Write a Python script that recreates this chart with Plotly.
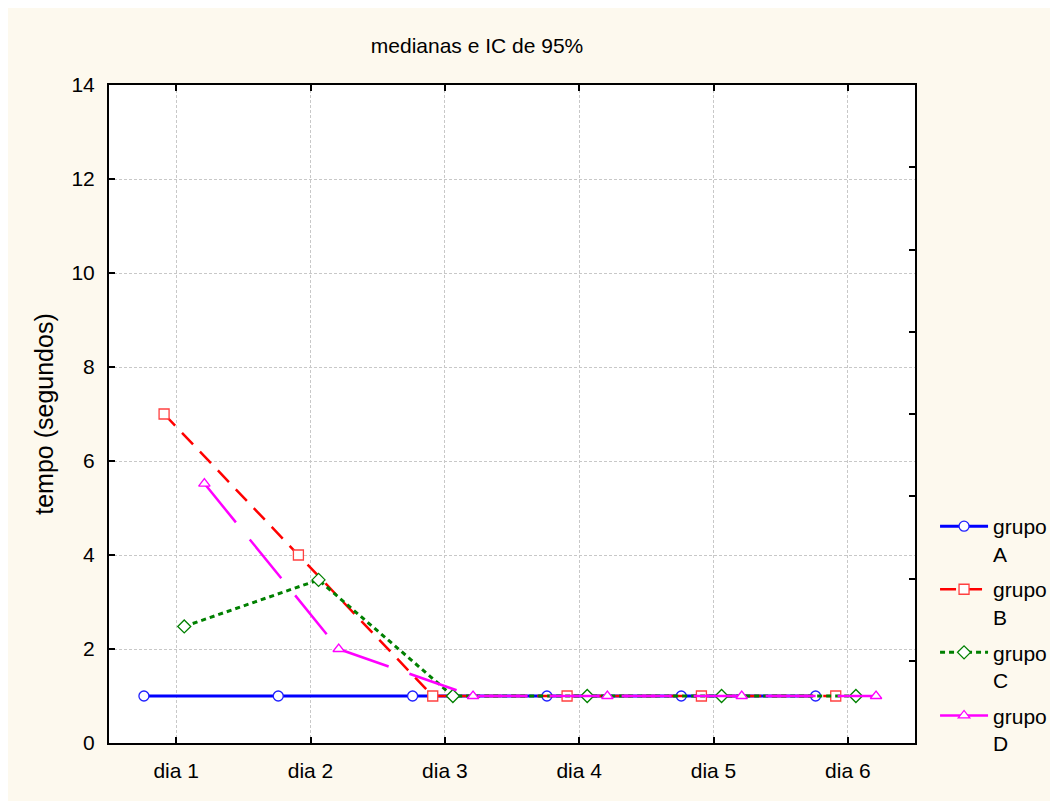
import plotly.graph_objects as go

dias = ["dia 1", "dia 2", "dia 3", "dia 4", "dia 5", "dia 6"]
grupo_A = [1, 1, 1, 1, 1, 1]
grupo_B = [7, 4, 1, 1, 1, 1]
grupo_C = [2.48, 3.47, 1, 1, 1, 1]
grupo_D = [5.52, 2.0, 1, 1, 1, 1]
y_ticks = [0, 2, 4, 6, 8, 10, 12, 14]

FONT = "Liberation Sans, Arial, sans-serif"
series = [
    ("grupo<br>A", grupo_A, -0.24, "#0000FF", "solid", 3, "circle", "#2020FF"),
    ("grupo<br>B", grupo_B, -0.09, "#FF0000", "16px,10px", 2.5, "square", "#FF4040"),
    ("grupo<br>C", grupo_C, 0.06, "#008000", "5px,4px", 3, "diamond", "#008000"),
    ("grupo<br>D", grupo_D, 0.21, "#FF00FF", "50px,22px", 2.5, "triangle-up", "#FF00FF"),
]

fig = go.Figure()
for i, (name, vals, off, col, dash, w, sym, mcol) in enumerate(series):
    xs = [k + off for k in range(len(dias))]
    fig.add_trace(go.Scatter(
        x=xs, y=vals, name=name, mode="lines+markers", legendgroup=str(i),
        line=dict(color=col, dash=dash, width=w),
        marker=dict(symbol=sym, size=10, color="white", line=dict(color=mcol, width=1.3)),
    ))

fig.update_layout(
    width=1050, height=793,
    margin=dict(l=101, r=143, t=77, b=58),
    paper_bgcolor="#FDF9EE", plot_bgcolor="white",
    font=dict(family=FONT, size=21, color="black"),
    title=dict(text="medianas e IC de 95%", x=0.4467, xanchor="center", y=0.953, yanchor="middle",
               font=dict(size=21)),
    showlegend=True,
    legend=dict(xref="container", yref="container", x=0.8829, xanchor="left", y=0.372, yanchor="top",
                bgcolor="rgba(0,0,0,0)", font=dict(size=21), tracegroupgap=5.5, itemwidth=48,
                valign="top"),
    xaxis=dict(range=[-0.5, 5.5], tickvals=list(range(len(dias))), ticktext=dias,
               showline=True, linecolor="black", linewidth=2, mirror="ticks",
               ticks="inside", ticklen=6, tickwidth=2, tickcolor="black",
               showgrid=True, gridcolor="#C8C8C8", gridwidth=1, griddash="3px,2px",
               zeroline=False, ticklabelstandoff=8),
    yaxis=dict(range=[0, 14], tickvals=y_ticks, title=dict(text="tempo (segundos)", standoff=11),
               showline=True, linecolor="black", linewidth=2, mirror=True,
               ticks="inside", ticklen=6, tickwidth=2, tickcolor="black",
               showgrid=True, gridcolor="#C8C8C8", gridwidth=1, griddash="3px,2px",
               zeroline=False, ticklabelstandoff=8),
    yaxis2=dict(overlaying="y", side="right", range=[0, 8], dtick=1, showticklabels=False,
                ticks="inside", ticklen=6, tickwidth=2, tickcolor="black",
                showgrid=False, zeroline=False, showline=False),
)
fig.add_trace(go.Scatter(x=[None], y=[None], yaxis="y2", showlegend=False, hoverinfo="skip"))

fig.write_html("out.html")
